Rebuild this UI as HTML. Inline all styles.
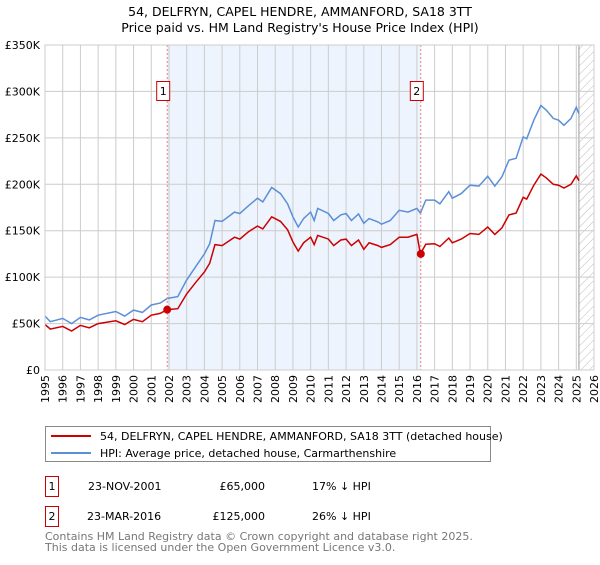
<!DOCTYPE html>
<html><head><meta charset="utf-8"><style>
body{margin:0;background:#fff;font-family:"Liberation Sans","DejaVu Sans",sans-serif;}
svg text{font-family:"DejaVu Sans","Liberation Sans",sans-serif;}
</style></head><body>
<svg id="chart" width="600" height="560" xmlns="http://www.w3.org/2000/svg">
<defs><pattern id="hatch" width="6" height="6" patternUnits="userSpaceOnUse" patternTransform="rotate(45)"><line x1="0" y1="0" x2="0" y2="6" stroke="#bbb" stroke-width="1"/></pattern></defs>
<text x="300" y="16" text-anchor="middle" font-size="12.5">54, DELFRYN, CAPEL HENDRE, AMMANFORD, SA18 3TT</text>
<text x="300" y="32" text-anchor="middle" font-size="12.5">Price paid vs. HM Land Registry's House Price Index (HPI)</text>
<g id="plot"></g>
<rect x="45.5" y="426.5" width="445" height="35" fill="#fff" stroke="#888"/>
<line x1="51" y1="436" x2="91" y2="436" stroke="#cc0000" stroke-width="2"/>
<text x="100" y="440" font-size="11">54, DELFRYN, CAPEL HENDRE, AMMANFORD, SA18 3TT (detached house)</text>
<line x1="51" y1="453" x2="91" y2="453" stroke="#5b8fd6" stroke-width="2"/>
<text x="100" y="457" font-size="11">HPI: Average price, detached house, Carmarthenshire</text>
<g font-size="11">
<rect x="45.5" y="476.5" width="13" height="20" fill="#fff" stroke="#cc0000"/>
<text x="52" y="490" text-anchor="middle">1</text>
<text x="88" y="490">23-NOV-2001</text>
<text x="265" y="490" text-anchor="end">£65,000</text>
<text x="312" y="490">17% ↓ HPI</text></g>
<g font-size="11">
<rect x="45.5" y="506.5" width="13" height="20" fill="#fff" stroke="#cc0000"/>
<text x="52" y="520" text-anchor="middle">2</text>
<text x="87" y="520">23-MAR-2016</text>
<text x="265" y="520" text-anchor="end">£125,000</text>
<text x="312" y="520">26% ↓ HPI</text></g>
<text x="45" y="540" font-size="11" fill="#777">Contains HM Land Registry data © Crown copyright and database right 2025.</text>
<text x="45" y="551" font-size="11" fill="#777">This data is licensed under the Open Government Licence v3.0.</text>
</svg>
<script>
const dates=[1995,1995.3,1996,1996.5,1997,1997.5,1998,1999,1999.5,2000,2000.5,2001,2001.5,2001.9,2002.5,2003,2003.5,2004,2004.3,2004.6,2005,2005.7,2006,2006.5,2007,2007.3,2007.8,2008.3,2008.7,2009,2009.3,2009.6,2010,2010.2,2010.4,2011,2011.3,2011.7,2012,2012.3,2012.7,2013,2013.3,2013.8,2014,2014.5,2015,2015.5,2016,2016.2,2016.5,2017,2017.3,2017.8,2018,2018.5,2019,2019.5,2020,2020.4,2020.8,2021.2,2021.6,2022,2022.2,2022.6,2023,2023.3,2023.7,2024,2024.3,2024.7,2025,2025.15];
const hpi=[58,52,55.6,50,56.6,54,59,63,58,64.5,62,70,72,77,79,97,111,125,136,161,160,170,168.5,177,185,181,196.5,190,179,165,154,163,170,161,174,168.5,161,167,168.5,161,168,158,163,159.5,157,161,172,170,174,169,183,183,179,192,185,190,199,198,208.7,198,208,226,228,251,249,269,285,280,271,269,263.5,271,283,276];
const prop=[49,44,47,42,48,45.5,50,53,49,54.5,52,59,61,65,66,82,94,105.5,115,135,134,143,141,149,155,152,165,160,151,138,128,137,143,135,145,141,134,140,141,134,140,130,137,134,132,135,143,143,146,125,135.5,136,133,142,137,141,147,146,154,146,153,167,169,186,184,199,211,207,200,199,196,200,209,204];
const yTicks=[0,50,100,150,200,250,300,350];
const years=[1995,1996,1997,1998,1999,2000,2001,2002,2003,2004,2005,2006,2007,2008,2009,2010,2011,2012,2013,2014,2015,2016,2017,2018,2019,2020,2021,2022,2023,2024,2025,2026];
const saleDates=[2001.9,2016.22];
const saleValues=[65,125];
const saleLabels=["1","2"];
const X0=45,X1=594,Y0=370,Y1=45;
const x=d=>X0+(d-1995)/(2026-1995)*(X1-X0);
const y=v=>Y0-v/350*(Y0-Y1);
const NS="http://www.w3.org/2000/svg";
const g=document.getElementById('plot');
function mk(t,a,p){const e=document.createElementNS(NS,t);for(const k in a)e.setAttribute(k,a[k]);(p||g).appendChild(e);return e;}
let r=mk('rect',{x:x(saleDates[0]),y:Y1,width:x(saleDates[1])-x(saleDates[0]),height:Y0-Y1,fill:'#eef4fd'});


let h=mk('rect',{x:x(2025.15),y:Y1,width:X1-x(2025.15),height:Y0-Y1,fill:'url(#hatch)'});


mk('line',{x1:x(2025.15),y1:Y1,x2:x(2025.15),y2:Y0,stroke:'#999'});
years.forEach(yr=>{
 const l=mk('line',{x1:x(yr),y1:Y1,x2:x(yr),y2:Y0,stroke:'#ccc'});
 
 
 const t=mk('text',{x:0,y:0,'font-size':11,'text-anchor':'end',transform:`translate(${x(yr)+4},${Y0+5}) rotate(-90)`});
 t.textContent=yr;
 
 
});
yTicks.forEach(v=>{
 const l=mk('line',{x1:X0,y1:y(v),x2:X1,y2:y(v),stroke:'#ccc'});
 
 
 const t=mk('text',{x:X0-5,y:y(v)+4,'font-size':11,'text-anchor':'end'});
 t.textContent=v===0?'£0':'£'+v+'K';
 
 
});
function path(vals,col,name){
 const p=mk('path',{d:vals.map((v,i)=>(i?'L':'M')+x(dates[i]).toFixed(1)+','+y(v).toFixed(1)).join(''),fill:'none',stroke:col,'stroke-width':1.5});
 
 
}
path(hpi,'#5b8fd6','hpi-line');
path(prop,'#cc0000','property-line');
saleDates.forEach((d,i)=>{
 const l=mk('line',{x1:x(d),y1:Y1,x2:x(d),y2:Y0,stroke:'#f08080','stroke-dasharray':'2,2'});
 
 
 const c=mk('circle',{cx:x(d),cy:y(saleValues[i]),r:4,fill:'#cc0000'});
 
 
 const b=mk('rect',{x:x(d)-10.5,y:81.5,width:13,height:19,fill:'#fff',stroke:'#cc0000'});
 
 
 const t=mk('text',{x:x(d)-4,y:95,'font-size':11,'text-anchor':'middle'});
 t.textContent=saleLabels[i];
 
 
});
mk('rect',{x:X0,y:Y1,width:X1-X0,height:Y0-Y1,fill:'none',stroke:'#ccc'});
</script>
</body></html>
